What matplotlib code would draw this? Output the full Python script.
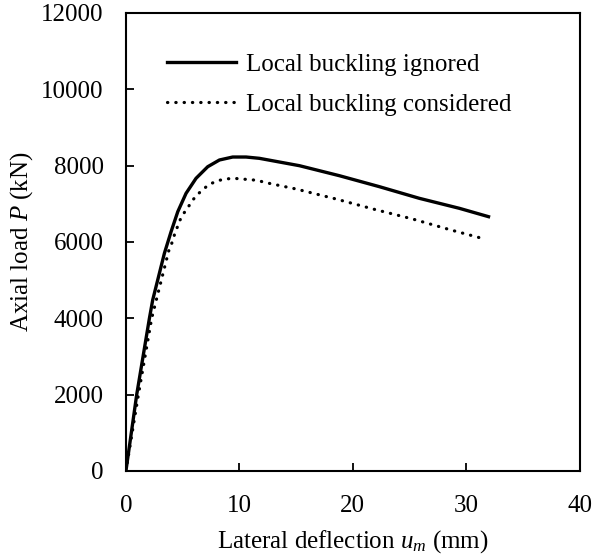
import matplotlib
matplotlib.use("Agg")
import matplotlib.pyplot as plt

# data
defl_ignored = [0.0, 0.95, 2.07, 2.36, 3.39, 3.98, 4.57, 5.30, 6.18, 7.21, 8.24, 9.41, 10.59,
                11.76, 15.29, 18.81, 22.34, 25.86, 29.39, 31.96]
load_ignored = [0, 2000, 4000, 4480, 5703, 6270, 6794, 7275, 7668, 7972, 8148, 8226, 8226,
                8192, 7999, 7737, 7449, 7144, 6882, 6663]

defl_considered = [0.0, 1.1, 2.27, 3.77, 4.04, 4.27, 4.51, 4.77, 5.1, 5.51, 5.89, 6.33, 6.83,
                   7.36, 8.09, 8.77, 9.5, 10.24, 10.88, 11.6, 12.2, 15.0, 18.52, 21.89, 25.27,
                   28.65, 31.38]
load_considered = [0, 2000, 4000, 5764, 5965, 6183, 6374, 6576, 6751, 6925, 7100, 7249, 7388,
                   7511, 7606, 7650, 7668, 7650, 7633, 7616, 7563, 7388, 7126, 6856, 6602,
                   6314, 6096]

x_ticks = [0, 10, 20, 30, 40]
y_ticks = [0, 2000, 4000, 6000, 8000, 10000, 12000]

plt.rcParams['font.family'] = ['Liberation Serif', 'DejaVu Serif']
plt.rcParams['mathtext.fontset'] = 'custom'
plt.rcParams['mathtext.rm'] = 'Liberation Serif'
plt.rcParams['mathtext.it'] = 'Liberation Serif:italic'
plt.rcParams['font.size'] = 18

fig = plt.figure(figsize=(5.94, 5.55), dpi=100)
ax = fig.add_axes([0.212, 0.1514, 0.764, 0.8252])

ax.plot(defl_ignored, load_ignored, color='black', lw=2.4, solid_joinstyle='round',
        label='Local buckling ignored')
ax.plot(defl_considered, load_considered, color='black', lw=2.3, linestyle=(0, (0.1, 2.5)),
        dash_capstyle='round', label='Local buckling considered')

ax.set_xlim(0, 40)
ax.set_ylim(0, 12000)
ax.set_xticks(x_ticks)
ax.set_yticks(y_ticks)
ax.tick_params(direction='in', length=5.5, width=1.3, top=False, right=False)
ax.tick_params(axis='y', pad=16)
ax.tick_params(axis='x', pad=17.5)
for s in ax.spines.values():
    s.set_linewidth(1.5)

ax.set_xlabel(r'Lateral deflection $u_m$ (mm)', labelpad=8)
ax.set_ylabel(r'Axial load $P$ (kN)', labelpad=4.5)

ax.legend(loc='upper left', bbox_to_anchor=(0.068, 0.933), frameon=False, handlelength=2.75,
          handletextpad=0.4, labelspacing=0.68, borderaxespad=0)

fig.savefig('out.png', dpi=100)
